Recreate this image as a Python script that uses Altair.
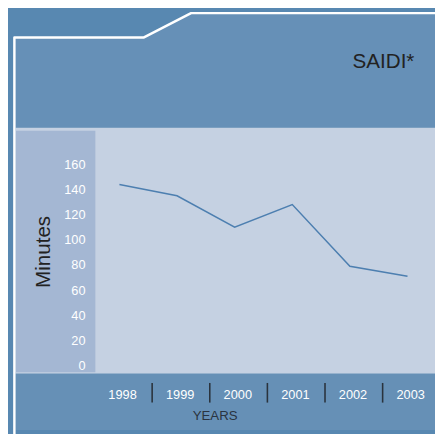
import altair as alt
import pandas as pd

# ---- data ----
years = [1998, 1999, 2000, 2001, 2002, 2003]
saidi = [144, 135, 110, 128, 79, 71]
y_ticks = [0, 20, 40, 60, 80, 100, 120, 140, 160]
chart_title = "SAIDI*"
y_title = "Minutes"
x_title = "YEARS"

# ---- styling ----
W, H = 435, 426
FONT = "Liberation Sans"
OUTER = "#5888b1"
HEADER = "#6690b7"
PLOT = "#c5d1e2"
YBAND = "#a4b7d3"
XBAND = "#6690b6"
LINE = "#4d7fb0"
SEP = "#2a333d"
DARK = "#222222"

df = pd.DataFrame({"Year": years, "SAIDI": saidi})
one = pd.DataFrame({"k": [0]})

xscale = alt.Scale(domain=[1997.5, 2003.5], range=[84.15, 436.35], nice=False, zero=False)
yscale = alt.Scale(domain=[0, 160], range=[360.3, 155.3], nice=False, zero=False)


def rect(x, x2, y, y2, color):
    return alt.Chart(one).mark_rect(color=color, opacity=1).encode(
        x=alt.value(x), x2=alt.value(x2), y=alt.value(y), y2=alt.value(y2)
    )


header = alt.Chart(one).mark_point(
    shape="M6,26L139,26L187,1L460,1L460,118L6,118Z",
    size=4, filled=True, fill=HEADER, opacity=1, strokeWidth=0,
).encode(x=alt.value(0), y=alt.value(0))

outline = alt.Chart(one).mark_point(
    shape="M6.5,460L6.5,26L138.5,26L186.5,1.25L460,1.25",
    size=4, filled=False, color="white", stroke="white", strokeWidth=2.5,
    strokeJoin="round", opacity=1,
).encode(x=alt.value(0), y=alt.value(0))

plot_bg = rect(7.7, W, 118, 368.5, PLOT)
y_band = rect(7.7, 89, 121, 367, YBAND)
x_band = rect(7.7, W, 368.5, H, XBAND)

line = alt.Chart(df).mark_line(color=LINE, strokeWidth=1.5).encode(
    x=alt.X("Year:Q", scale=xscale, axis=None),
    y=alt.Y(
        "SAIDI:Q",
        scale=yscale,
        axis=alt.Axis(
            orient="left", offset=-89, values=y_ticks, domain=False, ticks=False,
            tickSize=0, grid=False, labelPadding=10.5, labelColor="white",
            labelFont=FONT, labelFontSize=13, labelBaseline="middle", title=None,
            zindex=2,
        ),
    ),
)

year_labels = alt.Chart(df).mark_text(
    color="white", font=FONT, fontSize=13, dx=3.2, baseline="alphabetic", align="center"
).encode(
    x=alt.X("Year:Q", scale=xscale, axis=None),
    y=alt.value(394.3),
    text=alt.Text("Year:N"),
)

separators = alt.Chart(df).transform_filter(
    f"datum.Year < {years[-1]}"
).transform_calculate(Sep="datum.Year + 0.5").mark_rule(
    color=SEP, strokeWidth=1.6, xOffset=4
).encode(
    x=alt.X("Sep:Q", scale=xscale, axis=None),
    y=alt.value(378), y2=alt.value(398),
)

t_main = alt.Chart(one).mark_text(
    text=chart_title, font=FONT, fontSize=21, color=DARK, align="center", baseline="alphabetic"
).encode(x=alt.value(382.5), y=alt.value(57))

t_y = alt.Chart(one).mark_text(
    text=y_title, font=FONT, fontSize=21, color=DARK, align="center",
    baseline="alphabetic", angle=270,
).encode(x=alt.value(42.5), y=alt.value(244.5))

t_x = alt.Chart(one).mark_text(
    text=x_title, font=FONT, fontSize=13.5, color="#2a3440", align="center", baseline="alphabetic"
).encode(x=alt.value(211), y=alt.value(415.3))

chart = alt.layer(
    header, plot_bg, y_band, x_band, outline, line, year_labels, separators, t_main, t_y, t_x
).properties(
    width=W, height=H,
    autosize=alt.AutoSizeParams(type="none"),
    padding=0,
    background=OUTER,
).configure_view(stroke=None)

chart.save("out.html", embed_options={"renderer": "svg", "actions": False})
